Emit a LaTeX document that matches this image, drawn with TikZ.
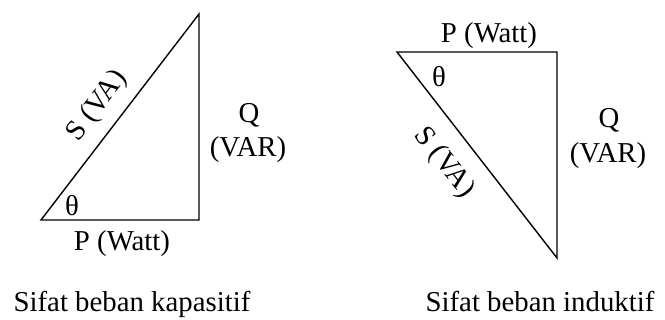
\documentclass[tikz,border=0pt]{standalone}
\usepackage{fontspec}
\setmainfont{Liberation Serif}
\begin{document}
\begin{tikzpicture}[x=1pt,y=-1pt,
  side/.style={line width=1.4pt, line join=miter},
  lbl/.style={inner sep=0pt, font=\fontsize{28.8}{30}\selectfont},
  bl/.style={lbl, anchor=base}]
\useasboundingbox (0,0) rectangle (665,320);
% left triangle (capacitive)
\coordinate (A1) at (41,220);
\coordinate (B1) at (199,220);
\coordinate (C1) at (199,14);
\draw[side] (A1) -- (B1) -- (C1) -- cycle;
\node[lbl, rotate=52.5] (s1) at (97,106) {S (VA)};
\node[lbl] (th1) at (72,206) {θ};
\node[bl] (p1) at (122,251) {P (Watt)};
\node[bl] (q1) at (249,123) {Q};
\node[bl] (v1) at (248,157) {(VAR)};
\node[bl] (t1) at (132,312) {Sifat beban kapasitif};
% right triangle (inductive)
\coordinate (A2) at (397,52);
\coordinate (B2) at (557,52);
\coordinate (C2) at (557,258);
\draw[side] (A2) -- (B2) -- (C2) -- cycle;
\node[lbl, rotate=-52] (s2) at (444,163) {S (VA)};
\node[lbl] (th2) at (439,77) {θ};
\node[bl] (p2) at (489,43) {P (Watt)};
\node[bl] (q2) at (609,128) {Q};
\node[bl] (v2) at (608,163) {(VAR)};
\node[bl] (t2) at (540,312) {Sifat beban induktif};
\end{tikzpicture}
\end{document}
